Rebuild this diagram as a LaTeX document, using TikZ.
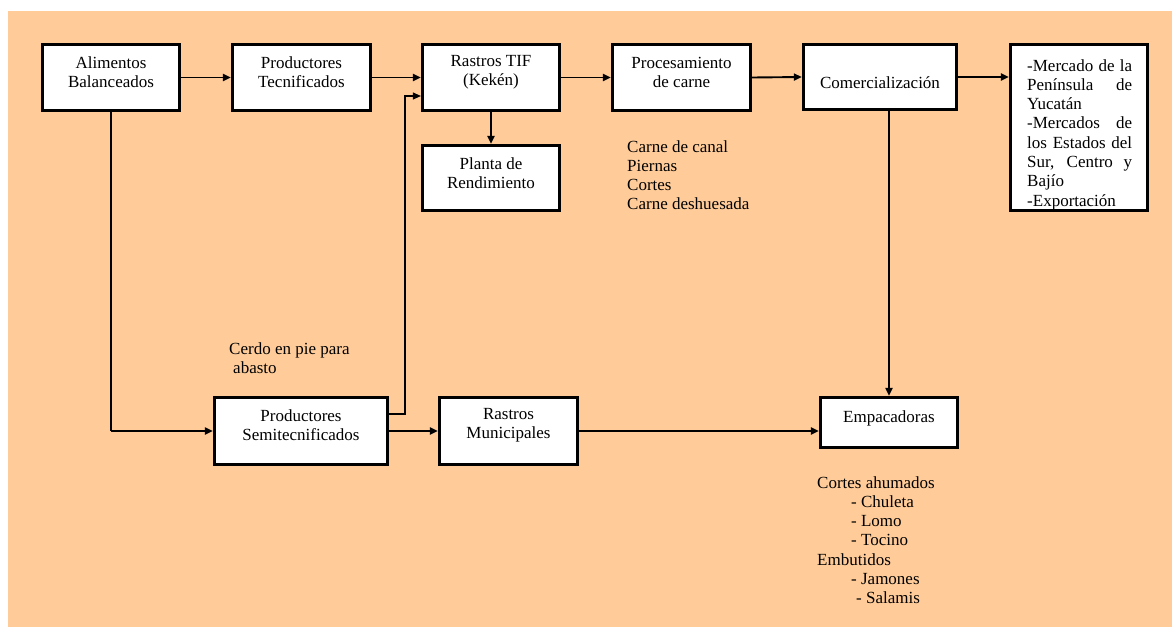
\documentclass[tikz,border=0pt]{standalone}
\usepackage{fontspec}
\setmainfont{Liberation Serif}
\usetikzlibrary{arrows.meta,calc}
\definecolor{peach}{HTML}{FFCC99}
\begin{document}
\begin{tikzpicture}[x=1pt,y=-1pt,
  box/.style={draw, line width=3.2pt, fill=white, inner sep=0pt},
  txt/.style={font=\fontsize{17}{19.3}\selectfont, align=center, inner sep=0pt},
  ltxt/.style={font=\fontsize{17}{19.3}\selectfont, align=left, inner sep=0pt, anchor=north west},
  tip/.style={-{Triangle[length=8pt,width=7pt]}},
  arr/.style={line width=1.9pt, tip},
  thinline/.style={line width=1.1pt}]
\useasboundingbox (0,0) rectangle (1172,627);
\fill[white] (0,0) rectangle (1172,627);
\fill[peach] (8,11) rectangle (1172,627);

% boxes
\node[box, minimum width=137pt, minimum height=66pt] (alim) at (111,77.5) {};
\node[box, minimum width=138pt, minimum height=66pt] (ptec) at (301.5,77.5) {};
\node[box, minimum width=137pt, minimum height=66pt] (tif) at (491,77.5) {};
\node[box, minimum width=138pt, minimum height=66pt] (proc) at (681.5,77.5) {};
\node[box, minimum width=153pt, minimum height=65pt] (com) at (880,77) {};
\node[box, minimum width=137pt, minimum height=166pt] (merc) at (1079,127.5) {};
\node[box, minimum width=137pt, minimum height=65pt] (planta) at (491,178) {};
\node[box, minimum width=173pt, minimum height=67pt] (semi) at (301,431) {};
\node[box, minimum width=138pt, minimum height=67pt] (rmun) at (508.5,431) {};
\node[box, minimum width=137pt, minimum height=50pt] (emp) at (889,422.5) {};

% box texts
\node[txt] (alimT) at ([yshift=5pt]alim.center) {Alimentos\\Balanceados};
\node[txt] (ptecT) at ([yshift=5pt]ptec.center) {Productores\\Tecnificados};
\node[txt] (tifT) at ([yshift=5pt]tif.center) {Rastros TIF\\(Kekén)};
\node[txt] (procT) at ([yshift=5pt]proc.center) {Procesamiento\\de carne};
\node[txt] (comT) at ([yshift=-6pt]com.center) {Comercialización};
\node[txt] (plantaT) at ([yshift=5pt]planta.center) {Planta de\\Rendimiento};
\node[txt] (semiT) at ([yshift=6pt]semi.center) {Productores\\Semitecnificados};
\node[txt] (rmunT) at ([yshift=6pt]rmun.center) {Rastros\\Municipales};
\node[txt] (empT) at ([yshift=4pt]emp.center) {Empacadoras};

\node[ltxt] (mercT) at (1027,59) {\makebox[105pt][s]{-Mercado de la}\\
  \makebox[105pt][s]{Península de}\\
  Yucatán\\
  \makebox[105pt][s]{-Mercados de}\\
  \makebox[105pt][s]{los Estados del}\\
  \makebox[105pt][s]{Sur, Centro y}\\
  Bajío\\
  -Exportación};

% free texts
\node[ltxt] (carne) at (627,140) {Carne de canal\\Piernas\\Cortes\\Carne deshuesada};
\node[ltxt] (cerdo) at (229,342) {Cerdo en pie para\\\hspace*{4pt}abasto};
\node[ltxt] (cortes) at (817,476) {Cortes ahumados\\
  \hspace*{34pt}- Chuleta\\
  \hspace*{34pt}- Lomo\\
  \hspace*{34pt}- Tocino\\
  Embutidos\\
  \hspace*{34pt}- Jamones\\
  \hspace*{39pt}- Salamis};

% connectors
\draw[arr] (alim.east) -- (ptec.west);
\draw[arr] (ptec.east) -- (tif.west);
\draw[arr] (tif.east) -- (proc.west);
\draw[arr] (proc.east) -- (com.west);
\draw[arr] (com.east) -- (com.east -| merc.west);
\draw[arr] (tif.south) -- (planta.north);
\draw[thinline] (alim.south) -- (alim.south |- semi.west);
\draw[arr] (alim.south |- semi.west) -- (semi.west);
\draw[arr] (semi.east) -- (rmun.west);
\draw[arr] (rmun.east) -- (rmun.east -| emp.west);
\draw[arr] (emp.north |- com.south) -- (emp.north);
\coordinate (bend) at (405,96);
\draw[thinline, tip] ([yshift=17pt]semi.east) -| (bend) -- (bend -| tif.west);
\end{tikzpicture}
\end{document}
